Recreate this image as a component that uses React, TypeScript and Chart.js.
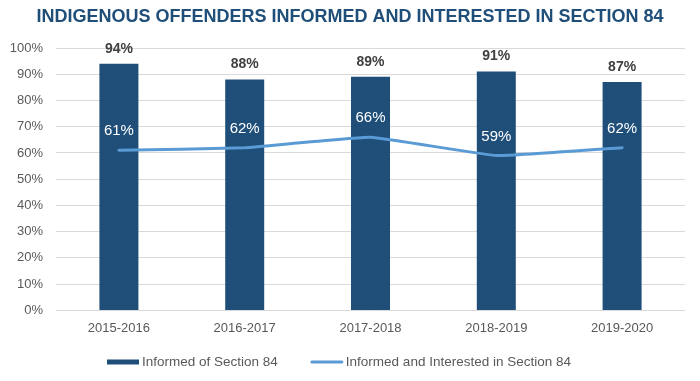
import React, { useEffect, useRef } from "react";
import { Chart, registerables } from "chart.js";

Chart.register(...registerables);

const titleText = "INDIGENOUS OFFENDERS INFORMED AND INTERESTED IN SECTION 84";
const categories = ["2015-2016", "2016-2017", "2017-2018", "2018-2019", "2019-2020"];
const informedValues = [94, 88, 89, 91, 87];
const interestedValues = [61, 62, 66, 59, 62];
const seriesNames = ["Informed of Section 84", "Informed and Interested in Section 84"];

const BAR_COLOR = "#1F4E79";
const LINE_COLOR = "#5B9BD5";
const TEXT_GRAY = "#595959";
const FONT = "'Liberation Sans', Arial, sans-serif";

const labelsPlugin = {
  id: "valueLabels",
  afterDatasetsDraw(chart: any) {
    const ctx = chart.ctx;
    ctx.save();
    ctx.textAlign = "center";
    ctx.textBaseline = "middle";
    const barMeta = chart.getDatasetMeta(1);
    ctx.font = `bold 14px ${FONT}`;
    ctx.fillStyle = "#404040";
    barMeta.data.forEach((el: any, i: number) => {
      ctx.fillText(`${informedValues[i]}%`, el.x, el.y - 15);
    });
    const lineMeta = chart.getDatasetMeta(0);
    ctx.font = `15px ${FONT}`;
    ctx.fillStyle = "#FFFFFF";
    lineMeta.data.forEach((el: any, i: number) => {
      ctx.fillText(`${interestedValues[i]}%`, el.x, el.y - 19);
    });
    ctx.restore();
  },
};

const titleLegendPlugin = {
  id: "titleLegend",
  afterDraw(chart: any) {
    const ctx = chart.ctx;
    ctx.save();
    // title
    ctx.font = `bold 18px ${FONT}`;
    ctx.fillStyle = BAR_COLOR;
    ctx.textAlign = "center";
    ctx.textBaseline = "middle";
    ctx.fillText(titleText, chart.width / 2, 17);
    // legend
    ctx.font = `13.5px ${FONT}`;
    ctx.textAlign = "left";
    const sw = 32;
    const gapText = 3;
    const gapItems = 33;
    const tw1 = ctx.measureText(seriesNames[0]).width;
    const tw2 = ctx.measureText(seriesNames[1]).width;
    const total = sw + gapText + tw1 + gapItems + sw + gapText + tw2;
    let x = (chart.width - total) / 2 - 11;
    const y = 362;
    ctx.fillStyle = BAR_COLOR;
    ctx.fillRect(x, y - 2.5, sw, 5);
    x += sw + gapText;
    ctx.fillStyle = TEXT_GRAY;
    ctx.fillText(seriesNames[0], x, y);
    x += tw1 + gapItems;
    ctx.strokeStyle = LINE_COLOR;
    ctx.lineWidth = 3;
    ctx.lineCap = "round";
    ctx.beginPath();
    ctx.moveTo(x + 1, y);
    ctx.lineTo(x + sw - 1, y);
    ctx.stroke();
    x += sw + gapText;
    ctx.fillStyle = TEXT_GRAY;
    ctx.fillText(seriesNames[1], x, y);
    ctx.restore();
  },
};

export default function App() {
  const ref = useRef<HTMLCanvasElement | null>(null);
  useEffect(() => {
    if (!ref.current) return;
    Chart.defaults.font.family = FONT;
    const chart = new Chart(ref.current, {
      type: "bar",
      data: {
        labels: categories,
        datasets: [
          {
            type: "line",
            label: seriesNames[1],
            data: interestedValues,
            borderColor: LINE_COLOR,
            backgroundColor: LINE_COLOR,
            borderWidth: 3,
            pointRadius: 0,
            tension: 0.1,
            borderCapStyle: "round",
            order: 0,
          } as any,
          {
            type: "bar",
            label: seriesNames[0],
            data: informedValues,
            backgroundColor: BAR_COLOR,
            barPercentage: 0.62,
            categoryPercentage: 0.5,
            order: 1,
          },
        ],
      },
      options: {
        animation: false,
        responsive: true,
        maintainAspectRatio: false,
        layout: { padding: { left: 0, right: 15, top: 48, bottom: 43 } },
        plugins: {
          legend: { display: false },
          tooltip: { enabled: false },
          title: { display: false },
        },
        scales: {
          x: {
            grid: { display: false },
            border: { display: false },
            ticks: { color: TEXT_GRAY, font: { size: 13 }, padding: 2 },
          },
          y: {
            min: 0,
            max: 100,
            afterFit: (s: any) => {
              s.width = 56;
            },
            grid: { color: "#D9D9D9", lineWidth: 1, drawTicks: false },
            border: { display: false },
            ticks: {
              stepSize: 10,
              color: TEXT_GRAY,
              font: { size: 13 },
              padding: 13,
              callback: (v: any) => `${v}%`,
            },
          },
        },
      },
      plugins: [labelsPlugin, titleLegendPlugin],
    });
    return () => chart.destroy();
  }, []);
  return (
    <div style={{ position: "absolute", left: 0, top: 0, width: 700, height: 381, background: "#fff" }}>
      <canvas ref={ref} />
    </div>
  );
}
